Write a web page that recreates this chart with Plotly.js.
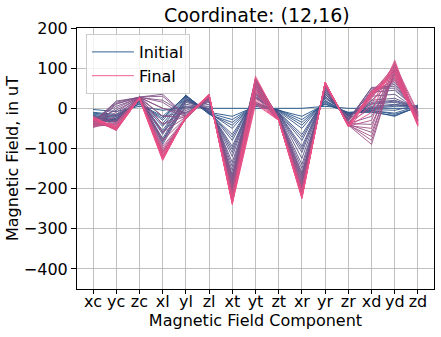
<!DOCTYPE html>
<html>
<head>
<meta charset="utf-8">
<script src="https://cdn.plot.ly/plotly-3.0.1.min.js"></script>
<style>html,body{margin:0;padding:0;background:#fff;}#chart{width:441px;height:337px;}</style>
</head>
<body>
<div id="chart"></div>
<script>
const categories = ["xc","yc","zc","xl","yl","zl","xt","yt","zt","xr","yr","zr","xd","yd","zd"];
const yTicks = [-400,-300,-200,-100,0,100,200];
const titleText = "Coordinate: (12,16)";
const legendNames = ["Initial", "Final"];

// one array per iteration, from initial (first) to final (last)
const r00 = [-3, -8, 5, -5, 3, 0, 0, 0, 0, 0, 5, 0, 0, 0, 0];
const r01 = [-10, -15, 10, -20, 30, -10, -20, 5, -5, -20, 10, -10, -5, -15, 2];
const r02 = [-12, -18, 12, -25, 32, -12, -28, 8, -4, -28, 12, -11, -10, -18, 3];
const r03 = [-15, -20, 15, -30, 33, -15, -35, 10, -5, -35, 15, -12, -8, -20, 5];
const r04 = [-18, -22, 17, -38, 30, -14, -42, 12, -6, -42, 18, -13, -6, -12, 6];
const r05 = [-20, -25, 18, -45, 28, -12, -50, 15, -8, -50, 20, -15, -3, -5, 8];
const r06 = [-22, -28, 20, -55, 25, -10, -65, 25, -10, -65, 25, -15, 0, 5, 5];
const r07 = [-24, -29, 21, -60, 24, -9, -72, 28, -11, -72, 28, -17, 2, 8, 4];
const r08 = [-25, -30, 22, -65, 22, -8, -80, 30, -12, -80, 30, -18, 5, 10, 3];
const r09 = [-28, -32, 22, -75, 20, -5, -95, 35, -12, -95, 35, -20, 10, 15, 0];
const r10 = [-29, -34, 23, -80, 18, -4, -102, 38, -13, -102, 35, -20, 12, 18, 1];
const r11 = [-30, -35, 24, -85, 15, -2, -110, 40, -15, -110, 35, -20, 15, 20, 2];
const r12 = [-30, -30, 24, -90, 10, 0, -120, 45, -15, -125, 40, -22, 20, 25, 0];
const r13 = [-32, -25, 25, -80, 5, 5, -135, 50, -18, -140, 40, -25, 30, 35, -5];
const r14 = [-30, -15, 25, -60, 0, 10, -145, 55, -20, -150, 45, -25, 40, 45, -5];
const r15 = [-28, -5, 26, -40, -5, 15, -155, 60, -20, -160, 45, -28, 50, 50, -8];
const r16 = [-30, 5, 26, -20, -10, 18, -165, 65, -22, -165, 50, -30, 52, 55, -10];
const r17 = [-32, 12, 27, 0, -12, 20, -170, 70, -22, -170, 50, -30, 45, 60, -12];
const r18 = [-35, 18, 27, 20, -15, 22, -175, 72, -24, -175, 55, -32, 35, 65, -15];
const r19 = [-35, 15, 28, 35, -18, 24, -180, 75, -25, -180, 55, -35, 20, 70, -15];
const r20 = [-38, 10, 28, 30, -20, 25, -185, 70, -25, -185, 55, -35, 0, 75, -18];
const r21 = [-40, 0, 28, 15, -22, 26, -190, 65, -25, -190, 58, -38, -20, 80, -20];
const r22 = [-42, -10, 28, 0, -20, 27, -195, 60, -26, -195, 60, -38, -40, 85, -20];
const r23 = [-45, -20, 28, -20, -22, 28, -200, 55, -27, -200, 60, -40, -60, 90, -25];
const r24 = [-48, -30, 28, -40, -20, 28, -205, 50, -27, -205, 60, -40, -80, 95, -28];
const r25 = [-45, -40, 27, -60, -22, 30, -210, 45, -28, -208, 62, -42, -90, 100, -30];
const r26 = [-40, -45, 27, -80, -24, 30, -215, 40, -28, -210, 62, -42, -70, 105, -32];
const r27 = [-35, -50, 26, -95, -24, 31, -220, 35, -28, -212, 63, -43, -50, 110, -35];
const r28 = [-30, -52, 26, -105, -25, 32, -225, 30, -29, -215, 63, -44, -30, 115, -38];
const r29 = [-32, -48, 25, -110, -22, 30, -218, 60, -28, -205, 58, -40, 30, 95, -20];
const r30 = [-38, -42, 27, -100, -26, 29, -212, 70, -27, -200, 56, -38, 38, 105, -15];
const r31 = [-42, -38, 28, -118, -24, 32, -226, 50, -29, -212, 60, -42, 42, 85, -25];
const r32 = [-26, -50, 24, -124, -21, 34, -230, 40, -31, -218, 62, -44, 35, 75, -30];
const r33 = [-36, -46, 26, -108, -27, 31, -222, 65, -28, -208, 60, -41, 28, 110, -10];
const r34 = [-30, -53, 25, -126, -23, 33, -236, 55, -30, -221, 64, -44, 44, 92, -35];
const r35 = [-44, -36, 27, -112, -25, 30, -216, 75, -27, -203, 57, -39, 40, 70, -22];
const r36 = [-28, -49, 26, -122, -22, 32, -233, 45, -29, -216, 63, -43, 32, 100, -28];
const r37 = [-28, -55, 25, -115, -25, 33, -228, 25, -30, -218, 64, -45, -10, 120, -40];
const r38 = [-25, -55, 25, -120, -24, 33, -232, 20, -30, -220, 65, -45, 10, 112, -42];
const r39 = [-22, -52, 24, -125, -22, 34, -235, 15, -30, -222, 65, -45, 25, 100, -43];
const r40 = [-20, -50, 24, -128, -20, 35, -238, 10, -30, -224, 65, -45, 35, 90, -45];
const r41 = [-25, -45, 23, -130, -20, 35, -240, 80, -30, -225, 65, -45, 40, 80, -40];

const runs = [r00,r01,r02,r03,r04,r05,r06,r07,r08,r09,
              r10,r11,r12,r13,r14,r15,r16,r17,r18,r19,
              r20,r21,r22,r23,r24,r25,r26,r27,r28,r29,
              r30,r31,r32,r33,r34,r35,r36,r37,r38,r39,
              r40,r41];

const startColor = [29, 82, 136];
const endColor = [239, 79, 134];
function blend(t){
  const c = startColor.map((s,k)=>Math.round(s + (endColor[k]-s)*t));
  return "rgb(" + c.join(",") + ")";
}

const n = runs.length;
const traces = runs.map((vals, i) => ({
  type: "scatter",
  mode: "lines",
  x: categories,
  y: vals,
  line: {color: blend(i/(n-1)), width: 0.9},
  name: i === 0 ? legendNames[0] : (i === n-1 ? legendNames[1] : ""),
  showlegend: i === 0 || i === n-1,
  hoverinfo: "skip"
}));

const font = {family: "DejaVu Sans, sans-serif", size: 16, color: "#000"};
const layout = {
  width: 441, height: 337,
  margin: {l: 77, r: 7, t: 28, b: 48, pad: 0},
  paper_bgcolor: "#fff", plot_bgcolor: "#fff",
  font: font,
  title: {text: titleText, font: {family: "DejaVu Sans, sans-serif", size: 19, color: "#000"},
          x: 0.5825, xanchor: "center", y: 0.973, yanchor: "top"},
  xaxis: {
    type: "category",
    range: [-0.69, 14.69],
    showgrid: true, gridcolor: "#b0b0b0", gridwidth: 0.8,
    showline: true, linecolor: "#000", linewidth: 1, mirror: true,
    ticks: "outside", ticklen: 4, tickcolor: "#000", tickwidth: 1,
    ticklabelstandoff: -6,
    tickfont: font, zeroline: false,
    title: {text: "Magnetic Field Component", font: font, standoff: 0}
  },
  yaxis: {
    range: [-450, 200],
    tickvals: yTicks,
    showgrid: true, gridcolor: "#b0b0b0", gridwidth: 0.8,
    showline: true, linecolor: "#000", linewidth: 1, mirror: true,
    ticks: "outside", ticklen: 5, tickcolor: "#000", tickwidth: 1,
    tickfont: font, zeroline: false,
    title: {text: "Magnetic Field, in uT", font: font, standoff: 1}
  },
  legend: {
    x: 0.025, y: 0.977, xanchor: "left", yanchor: "top",
    bgcolor: "rgba(255,255,255,0.8)", bordercolor: "#cccccc", borderwidth: 1,
    font: {family: "DejaVu Sans, sans-serif", size: 16, color: "#000"},
    itemwidth: 42,
    tracegroupgap: 0
  },
  showlegend: true
};

Plotly.newPlot("chart", traces, layout, {displayModeBar: false, staticPlot: true});
</script>
</body>
</html>
